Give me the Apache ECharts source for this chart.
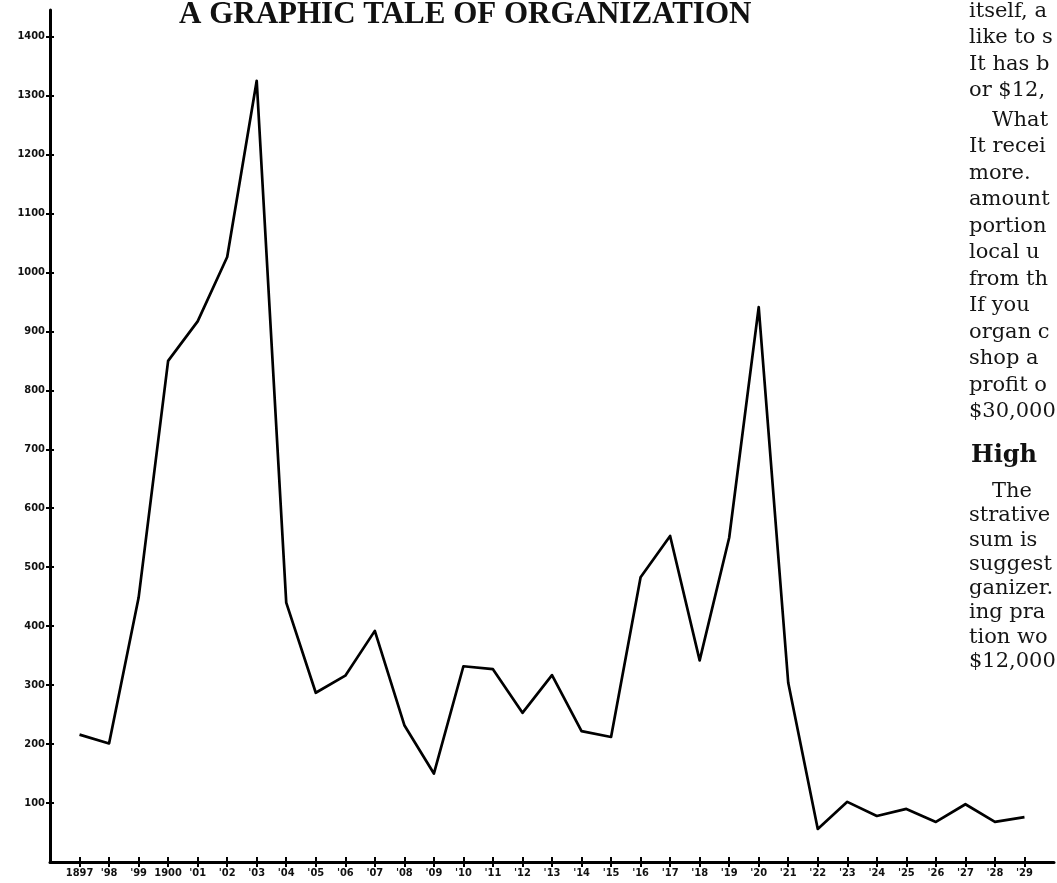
<!DOCTYPE html>
<html>
<head>
<meta charset="utf-8">
<script src="https://cdn.jsdelivr.net/npm/echarts@6/dist/echarts.min.js"></script>
<style>html,body{margin:0;padding:0;background:#fff}#c{width:1057px;height:883px}</style>
</head>
<body>
<div id="c"></div>
<script>
const years = [1897,1898,1899,1900,1901,1902,1903,1904,1905,1906,1907,1908,1909,1910,1911,1912,1913,1914,1915,1916,1917,1918,1919,1920,1921,1922,1923,1924,1925,1926,1927,1928,1929];
const values = [216,201,448,850,917,1026,1325,440,287,316,392,232,150,332,327,253,317,222,212,483,553,342,550,941,304,56,102,78,90,68,98,68,76];
const xTickLabels = ['1897',"'98","'99",'1900',"'01","'02","'03","'04","'05","'06","'07","'08","'09","'10","'11","'12","'13","'14","'15","'16","'17","'18","'19","'20","'21","'22","'23","'24","'25","'26","'27","'28","'29"];
const yTicks = [100,200,300,400,500,600,700,800,900,1000,1100,1200,1300,1400];
const titleText = 'A GRAPHIC TALE OF ORGANIZATION';
const sideLines = [
  ['itself, a',0],['like to s',0],['It has b',0],['or $12,',0],
  ['What',1],['It recei',0],['more.',0],['amount',0],['portion',0],['local u',0],
  ['from th',0],['If you',0],['organ c',0],['shop a',0],['profit o',0],['$30,000',0]
];
const sideLines2 = [
  ['The',1],['strative',0],['sum is',0],['suggest',0],['ganizer.',0],['ing pra',0],['tion wo',0],['$12,000',0]
];
const sideHeading = 'High';

const chart = echarts.init(document.getElementById('c'), null, {renderer:'canvas'});
const labelFont = '"DejaVu Sans Condensed", "DejaVu Sans", sans-serif';
const lineData = years.map((y,i)=>[y, values[i]]);

const graphics = [];
const bodyFont = '21px "DejaVu Serif", serif';
const y0 = 13, step = 26.5;
sideLines.forEach((l,i)=>{
  const yy = y0 + i*step + (i>=4 ? 3 : 0);
  graphics.push({type:'text', left: l[1] ? 992 : 969, top: yy-12, style:{text:l[0], font: bodyFont, fill:'#151515'}});
});
graphics.push({type:'text', left: 971, top: 444, style:{text: sideHeading, font:'bold 24px "DejaVu Serif", serif', fill:'#111'}});
sideLines2.forEach((l,i)=>{
  const yy = 493 + i*24.3;
  graphics.push({type:'text', left: l[1] ? 992 : 969, top: yy-12, style:{text:l[0], font: bodyFont, fill:'#151515'}});
});

chart.setOption({
  backgroundColor:'#fff',
  animation:false,
  title:{text:titleText, left:179, top:-1, padding:0,
    textStyle:{fontFamily:'"Liberation Serif", serif', fontWeight:'bold', fontSize:31, color:'#111'}},
  grid:{left:50, right:3, top:10, bottom:21, containLabel:false},
  xAxis:[{
    type:'value', min:1896, max:1930, interval:1,
    axisLine:{show:true, lineStyle:{color:'#000', width:3}},
    axisTick:{show:true, length:5, lineStyle:{color:'#000', width:2}, customValues: years},
    axisLabel:{show:true, customValues: years, margin:6, fontFamily:labelFont, fontWeight:'bold', fontSize:11, color:'#111',
      formatter:(v)=>{const i=years.indexOf(Math.round(v)); return i>=0?xTickLabels[i]:'';}},
    splitLine:{show:false}
  },{
    type:'value', min:1896, max:1930, position:'bottom',
    axisLine:{show:false},
    axisTick:{show:true, inside:true, length:5, lineStyle:{color:'#000', width:2}, customValues: years},
    axisLabel:{show:false}, splitLine:{show:false}
  }],
  yAxis:[{
    type:'value', min:0, max:1445,
    axisLine:{show:true, lineStyle:{color:'#000', width:3}},
    axisTick:{show:true, length:4, lineStyle:{color:'#000', width:2}, customValues: yTicks},
    axisLabel:{show:true, customValues: yTicks, margin:5, fontFamily:labelFont, fontWeight:'bold', fontSize:11, color:'#111',
      formatter:(v)=>String(Math.round(v))},
    splitLine:{show:false}
  },{
    type:'value', min:0, max:1445, position:'left',
    axisLine:{show:false},
    axisTick:{show:true, inside:true, length:4, lineStyle:{color:'#000', width:2}, customValues: yTicks},
    axisLabel:{show:false}, splitLine:{show:false}
  }],
  series:[{
    type:'line', data:lineData, xAxisIndex:0, yAxisIndex:0,
    showSymbol:false, symbol:'none',
    lineStyle:{color:'#000', width:2.7, join:'round'},
    silent:true
  }],
  graphic: graphics
});
</script>
</body>
</html>
